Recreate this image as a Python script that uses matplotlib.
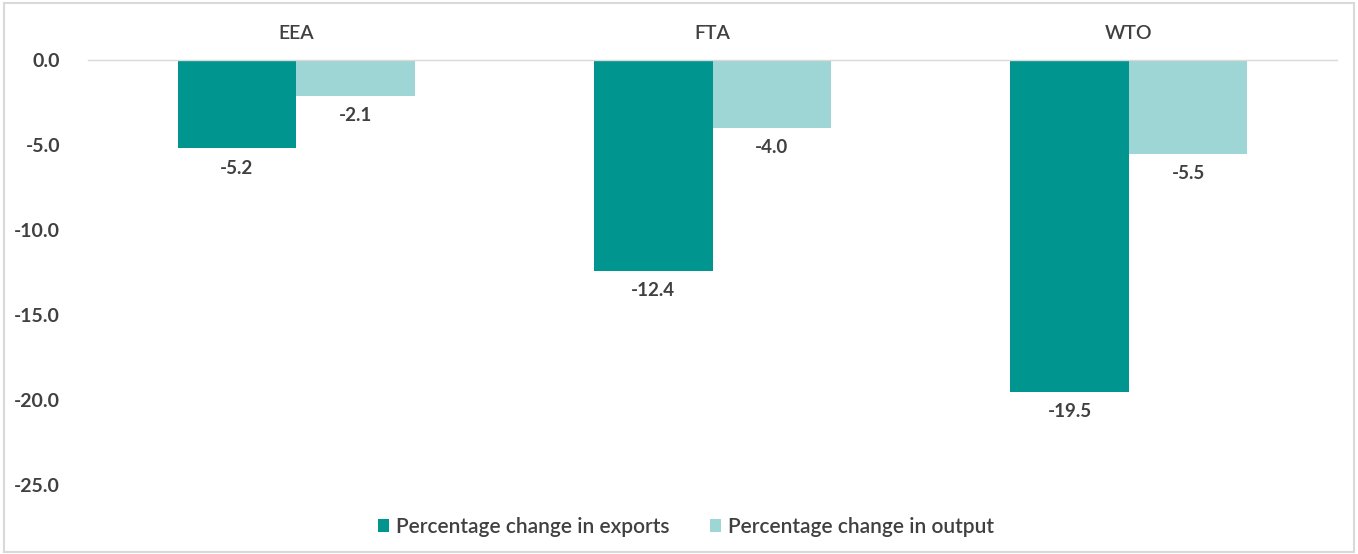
import matplotlib
matplotlib.use("Agg")
import matplotlib.pyplot as plt
import numpy as np
from matplotlib.patches import Rectangle

categories = ["EEA", "FTA", "WTO"]
exports = [-5.2, -12.4, -19.5]
output = [-2.1, -4.0, -5.5]
series_names = ["Percentage change in exports", "Percentage change in output"]
yticks = [0, -5, -10, -15, -20, -25]

c_exp = "#00968F"
c_out = "#9DD6D4"
txt = "#404040"

plt.rcParams['font.family'] = ['Lato', 'DejaVu Sans']

fig = plt.figure(figsize=(13.58, 5.54), dpi=100)
ax = fig.add_axes([88/1358, 1-485/554, (1337-88)/1358, (485-60)/554])

x = np.arange(len(categories))
w = 0.285
b1 = ax.bar(x - w/2, exports, w, color=c_exp, label=series_names[0])
b2 = ax.bar(x + w/2, output, w, color=c_out, label=series_names[1])

for bars, vals in ((b1, exports), (b2, output)):
    for r, v in zip(bars, vals):
        ax.annotate(f"{v:.1f}", (r.get_x() + r.get_width()/2, v),
                    xytext=(0, -8), textcoords="offset points",
                    ha="center", va="top", fontsize=13.5, fontweight="bold", color=txt)

ax.set_xlim(-0.5, len(categories) - 0.5)
ax.set_ylim(-25, 0)
ax.set_yticks(yticks)
ax.set_yticklabels([f"{t:.1f}" for t in yticks])
ax.tick_params(axis="y", length=0, pad=20, labelsize=14, labelcolor=txt)
for lab in ax.get_yticklabels():
    lab.set_fontweight("bold")
ax.xaxis.tick_top()
ax.set_xticks(x)
ax.set_xticklabels(categories)
ax.tick_params(axis="x", length=0, pad=13, labelsize=14, labelcolor=txt)
for lab in ax.get_xticklabels():
    lab.set_fontweight("semibold")
for s in ("left", "right", "bottom"):
    ax.spines[s].set_visible(False)
ax.spines["top"].set_color("#D9D9D9")
ax.spines["top"].set_linewidth(1.0)

leg = fig.legend(handles=[b1, b2], loc="center", bbox_to_anchor=(686/1358, 1-527/554),
                 ncol=2, frameon=False, prop={"size": 15, "weight": "semibold"},
                 handlelength=0.55, handleheight=0.55,
                 handletextpad=0.35, columnspacing=1.9)
for t in leg.get_texts():
    t.set_color(txt)

fig.patches.append(Rectangle((0.003, 0.003), 0.994, 0.991, transform=fig.transFigure,
                             fill=False, edgecolor="#D9D9D9", linewidth=1.5))

fig.savefig("out.png", dpi=100)
